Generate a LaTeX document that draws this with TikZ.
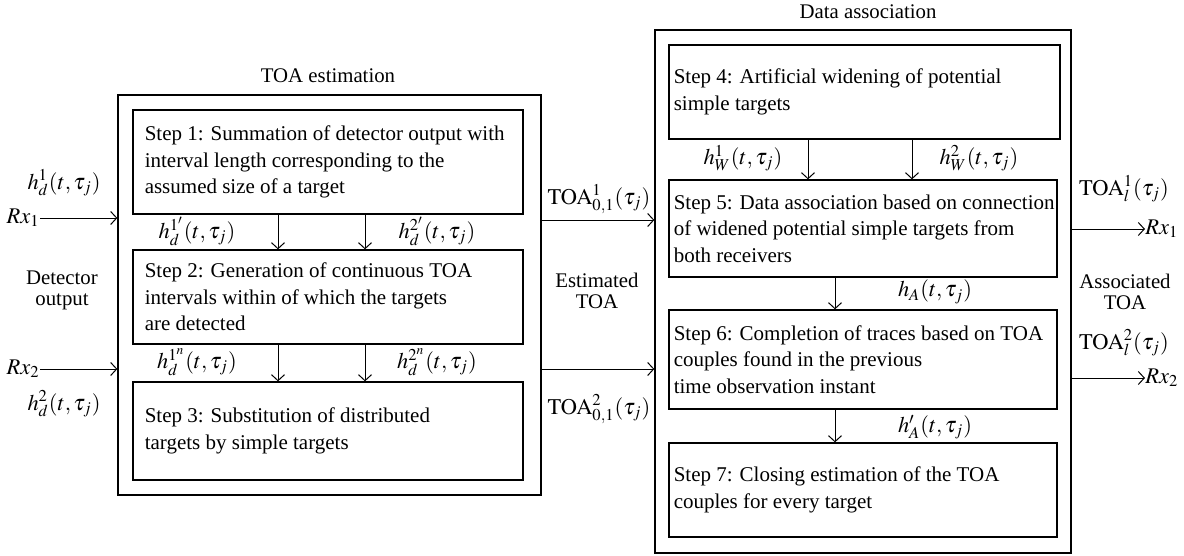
\documentclass[tikz,border=0pt]{standalone}
\usepackage{amsmath}
\usepackage{mathptmx}
\usepackage{fontspec}
\setmainfont{Liberation Serif}
\usetikzlibrary{arrows.meta}

\tikzset{
  box/.style={draw, line width=0.65pt, inner sep=0pt},
  steptext/.style={anchor=west, align=left, inner sep=0pt, font=\fontsize{10.5}{13.3}\selectfont},
  lbl/.style={inner sep=0pt, align=center, font=\fontsize{10.4}{10.5}\selectfont},
  mlbl/.style={inner sep=0pt, font=\fontsize{11.2}{12}\selectfont},
  flow/.style={line width=0.5pt, -{Straight Barb[length=3pt,width=6.5pt]}},
}

\begin{document}
\begin{tikzpicture}[x=0.5pt, y=-0.5pt]
\useasboundingbox (0,0) rectangle (1184,556);

% TOA estimation block
\node[lbl] (esttitle) at (328,76) {TOA estimation};
\node[box, minimum width=211.5pt, minimum height=200pt] (est) at (329.5,295) {};
\node[box, minimum width=195pt, minimum height=52pt] (s1) at (328,162) {};
\node[box, minimum width=195pt, minimum height=47pt] (s2) at (328,297) {};
\node[box, minimum width=195pt, minimum height=49pt] (s3) at (328,431) {};
\node[steptext, xshift=6pt] (t1) at (s1.west) {Step 1: Summation of detector output with\\interval length corresponding to the\\assumed size of a target};
\node[steptext, xshift=6pt] (t2) at (s2.west) {Step 2: Generation of continuous TOA\\intervals within of which the targets\\are detected};
\node[steptext, xshift=6pt] (t3) at (s3.west) {Step 3: Substitution of distributed\\targets by simple targets};
\draw[flow] ([xshift=-25pt]s1.south) -- ([xshift=-25pt]s2.north);
\draw[flow] ([xshift=18.5pt]s1.south) -- ([xshift=18.5pt]s2.north);
\draw[flow] ([xshift=-25pt]s2.south) -- ([xshift=-25pt]s3.north);
\draw[flow] ([xshift=18.5pt]s2.south) -- ([xshift=18.5pt]s3.north);
\node[mlbl] (h1a) at (197,231) {$h_d^{1'}(t,\tau_j)$};
\node[mlbl] (h2a) at (437,231) {$h_d^{2'}(t,\tau_j)$};
\node[mlbl] (h1b) at (197,362) {$h_d^{1^n}(t,\tau_j)$};
\node[mlbl] (h2b) at (437,362) {$h_d^{2^n}(t,\tau_j)$};

% detector output
\node[mlbl] (hin1) at (64,183) {$h_d^1(t,\tau_j)$};
\node[mlbl, anchor=east] (rxin1) at (40,218) {$Rx_1$};
\node[lbl] (detout) at (62,290) {Detector\\output};
\node[mlbl, anchor=east] (rxin2) at (40,369) {$Rx_2$};
\node[mlbl] (hin2) at (64,404) {$h_d^2(t,\tau_j)$};
\draw[flow] (rxin1) -- (rxin1 -| est.west);
\draw[flow] (rxin2) -- (rxin2 -| est.west);

% Data association block
\node[lbl] (assoctitle) at (868,12) {Data association};
\node[box, minimum width=208pt, minimum height=261.5pt] (assoc) at (863,291.5) {};
\node[box, minimum width=195.5pt, minimum height=47pt] (s4) at (864.5,92) {};
\node[box, minimum width=194pt, minimum height=48.5pt] (s5) at (863,228.5) {};
\node[box, minimum width=194pt, minimum height=49.5pt] (s6) at (863,359.5) {};
\node[box, minimum width=194pt, minimum height=47pt] (s7) at (863,490) {};
\node[steptext, xshift=2.5pt] (t4) at (s4.west) {Step 4: Artificial widening of potential\\simple targets};
\node[steptext, xshift=2.5pt] (t5) at (s5.west) {Step 5: Data association based on connection\\of widened potential simple targets from\\both receivers};
\node[steptext, xshift=2.5pt] (t6) at (s6.west) {Step 6: Completion of traces based on TOA\\couples found in the previous\\time observation instant};
\node[steptext, xshift=2.5pt] (t7) at (s7.west) {Step 7: Closing estimation of the TOA\\couples for every target};
\draw[flow] ([xshift=-28.25pt]s4.south) -- ([xshift=-28.25pt]s4.south |- s5.north);
\draw[flow] ([xshift=23.75pt]s4.south) -- ([xshift=23.75pt]s4.south |- s5.north);
\draw[flow] ([xshift=-14pt]s5.south) -- ([xshift=-14pt]s6.north);
\draw[flow] ([xshift=-14pt]s6.south) -- ([xshift=-14pt]s7.north);
\node[mlbl] (hw1) at (743,158) {$h_W^1(t,\tau_j)$};
\node[mlbl] (hw2) at (979,158) {$h_W^2(t,\tau_j)$};
\node[mlbl] (ha) at (935,292) {$h_A(t,\tau_j)$};
\node[mlbl] (hap) at (935,427) {$h'_A(t,\tau_j)$};

% estimated TOA
\node[mlbl] (toa1) at (599,199) {$\mathrm{TOA}_{0,1}^1(\tau_j)$};
\node[lbl] (esttoa) at (597,291) {Estimated\\TOA};
\node[mlbl] (toa2) at (599,409) {$\mathrm{TOA}_{0,1}^2(\tau_j)$};
\draw[flow] (est.east |- 0,220) -- (assoc.west |- 0,220);
\draw[flow] (est.east |- 0,369) -- (assoc.west |- 0,369);

% associated TOA
\node[mlbl] (toal1) at (1124,189) {$\mathrm{TOA}_l^1(\tau_j)$};
\node[mlbl, anchor=west] (rxout1) at (1145,229) {$Rx_1$};
\node[lbl] (assoctoa) at (1125,292) {Associated\\TOA};
\node[mlbl] (toal2) at (1124,343) {$\mathrm{TOA}_l^2(\tau_j)$};
\node[mlbl, anchor=west] (rxout2) at (1145,378) {$Rx_2$};
\draw[flow] (assoc.east |- rxout1) -- (rxout1);
\draw[flow] (assoc.east |- rxout2) -- (rxout2);
\end{tikzpicture}
\end{document}
